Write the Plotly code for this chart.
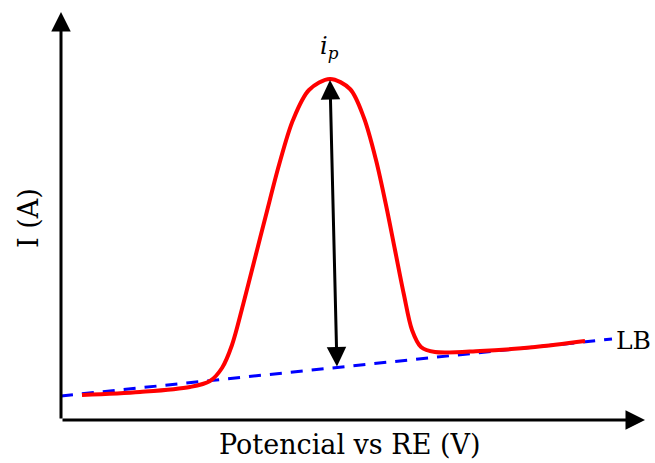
import plotly.graph_objects as go

# Data units: potential (arbitrary V), current (arbitrary A)
potential = [0.21, 0.79, 1.29, 1.49, 1.61, 1.71, 1.82, 1.93, 2.05, 2.18, 2.32, 2.48, 2.69,
             2.89, 3.03, 3.15, 3.25, 3.34, 3.43, 3.51, 3.60, 3.74, 4.19, 4.74, 5.24]
current = [0.25, 0.28, 0.33, 0.39, 0.52, 0.75, 1.15, 1.58, 2.05, 2.55, 3.00, 3.30, 3.41,
           3.31, 3.02, 2.60, 2.15, 1.70, 1.25, 0.90, 0.73, 0.68, 0.69, 0.73, 0.79]
baseline_x = [0.0, 5.51]
baseline_y = [0.24, 0.81]
peak_top = (2.69, 3.40)
peak_base = (2.76, 0.52)
axis_x_end = 5.84
axis_y_end = 4.08

FONT = "DejaVu Serif"

fig = go.Figure()
fig.add_trace(go.Scatter(x=baseline_x, y=baseline_y, mode="lines",
                         line=dict(color="#0000ff", width=3, dash="12px,9px"),
                         hoverinfo="skip"))
fig.add_trace(go.Scatter(x=potential, y=current, mode="lines",
                         line=dict(color="#ff0000", width=4, shape="spline", smoothing=0.9),
                         hoverinfo="skip"))

ann = []
# axes arrows
ann.append(dict(x=axis_x_end, y=0, ax=0, ay=0, xref="x", yref="y", axref="x", ayref="y",
                text="", showarrow=True, arrowhead=2, arrowsize=1.3, arrowwidth=3,
                arrowcolor="black", standoff=0))
ann.append(dict(x=0, y=axis_y_end, ax=0, ay=0, xref="x", yref="y", axref="x", ayref="y",
                text="", showarrow=True, arrowhead=2, arrowsize=1.3, arrowwidth=3,
                arrowcolor="black", standoff=0))
# peak double arrow
ann.append(dict(x=peak_top[0], y=peak_top[1], ax=peak_base[0], ay=peak_base[1],
                xref="x", yref="y", axref="x", ayref="y",
                text="", showarrow=True, arrowhead=2, startarrowhead=2, arrowside="end+start",
                arrowsize=1.3, startarrowsize=1.3, arrowwidth=3,
                arrowcolor="black", standoff=0, startstandoff=0))
# labels
ann.append(dict(x=2.68, y=3.73, xref="x", yref="y", showarrow=False,
                text="<i>i</i><sub><i>p</i></sub>", font=dict(family=FONT, size=24, color="black")))
ann.append(dict(x=5.53, y=0.80, xref="x", yref="y", showarrow=False, xanchor="left",
                text="LB", font=dict(family=FONT, size=25, color="black")))
ann.append(dict(x=2.89, y=-0.24, xref="x", yref="y", showarrow=False,
                text="Potencial vs RE (V)", font=dict(family=FONT, size=27, color="black")))
ann.append(dict(x=-0.33, y=2.02, xref="x", yref="y", showarrow=False, textangle=-90,
                text="I (A)", font=dict(family=FONT, size=27, color="black")))

fig.update_layout(
    width=655, height=463,
    margin=dict(l=0, r=0, t=0, b=0),
    paper_bgcolor="white", plot_bgcolor="white",
    showlegend=False,
    xaxis=dict(range=[-0.61, 5.94], visible=False, fixedrange=True),
    yaxis=dict(range=[-0.43, 4.20], visible=False, fixedrange=True),
    annotations=ann,
)

fig.write_html("out.html", config={"displayModeBar": False},
               post_script="document.body.style.margin='0';document.body.style.overflow='hidden';")
